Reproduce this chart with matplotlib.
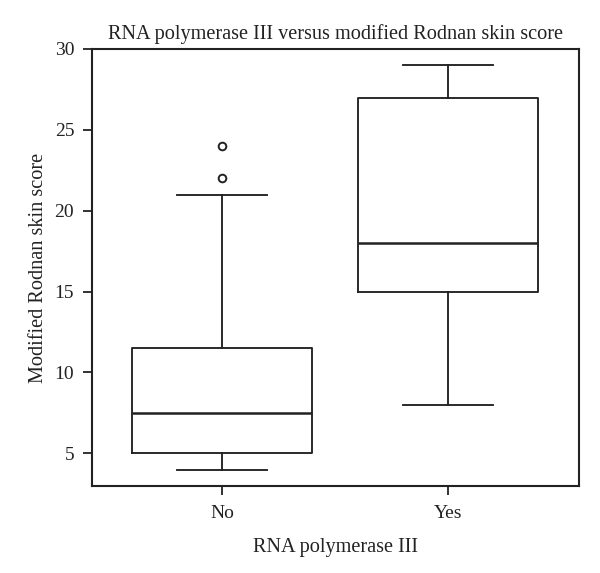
import matplotlib
matplotlib.use("Agg")
import matplotlib.pyplot as plt

categories = ["No", "Yes"]
whislo = [4, 8]
q1 = [5, 15]
med = [7.5, 18]
q3 = [11.5, 27]
whishi = [21, 29]
fliers = [[22, 24], []]

plt.rcParams['font.family'] = ['Liberation Serif', 'DejaVu Serif']

fig = plt.figure(figsize=(6, 5.73), dpi=100)
ax = fig.add_axes([0.1525, 0.1518, 0.8125, 0.7627])

stats = []
for i, c in enumerate(categories):
    stats.append(dict(label=c, whislo=whislo[i], q1=q1[i], med=med[i],
                      q3=q3[i], whishi=whishi[i], fliers=fliers[i]))

lw = 1.35
ax.bxp(stats, positions=[1, 2], widths=0.8, showfliers=True,
       boxprops=dict(color='#222222', linewidth=lw),
       medianprops=dict(color='#222222', linewidth=1.8),
       whiskerprops=dict(color='#222222', linewidth=lw, linestyle='-'),
       capprops=dict(color='#222222', linewidth=lw),
       capwidths=0.4,
       flierprops=dict(marker='o', markersize=5.5, markerfacecolor='none',
                       markeredgecolor='#222222', markeredgewidth=1.4))

ax.set_xlim(0.423, 2.58)
ax.set_ylim(2.98, 30.0)
ax.set_yticks([5, 10, 15, 20, 25, 30])
ax.set_xticks([1, 2])
ax.set_xticklabels(categories)

for s in ax.spines.values():
    s.set_linewidth(1.5)
    s.set_color('#222222')
ax.tick_params(axis='both', length=6.5, width=1.3, color='#222222',
               labelsize=14, labelcolor='#222222')
ax.tick_params(axis='x', pad=7)
ax.tick_params(axis='y', pad=6)

ax.set_title("RNA polymerase III versus modified Rodnan skin score",
             fontsize=14.6, color='#222222', pad=7)
ax.set_xlabel("RNA polymerase III", fontsize=14.6, color='#222222', labelpad=12)
ax.set_ylabel("Modified Rodnan skin score", fontsize=14.6, color='#222222', labelpad=5)

fig.savefig("out.png", dpi=100)
